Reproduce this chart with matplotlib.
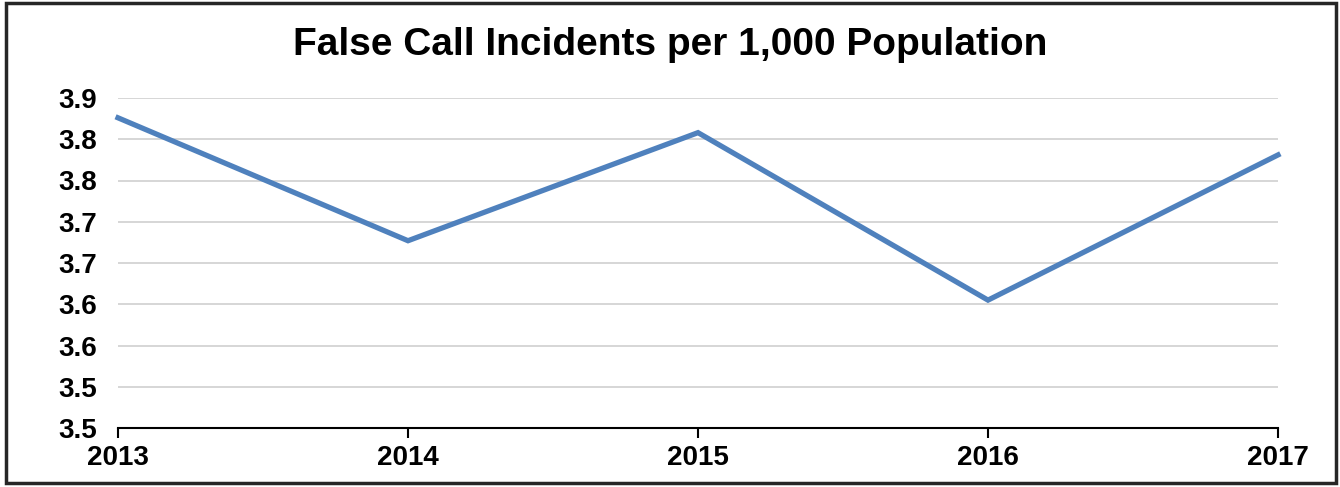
import matplotlib.pyplot as plt
from matplotlib.patches import Rectangle

plt.rcParams["font.family"] = ["Liberation Sans", "DejaVu Sans"]

years = ["2013", "2014", "2015", "2016", "2017"]
rates = [3.876, 3.727, 3.858, 3.655, 3.831]
y_ticks = [3.50, 3.55, 3.60, 3.65, 3.70, 3.75, 3.80, 3.85, 3.90]
y_labels = ["3.5", "3.5", "3.6", "3.6", "3.7", "3.7", "3.8", "3.8", "3.9"]

fig = plt.figure(figsize=(13.4, 4.87), dpi=100)
ax = fig.add_axes([118/1340, 1 - 428/487, (1278 - 118)/1340, (428 - 98)/487])

x = range(len(years))
ax.plot(x, rates, color="#4f81bd", lw=3.8, solid_joinstyle="miter", clip_on=False, zorder=3)

ax.set_xlim(0, len(years) - 1)
ax.set_ylim(3.5, 3.9)
ax.set_xticks(list(x))
ax.set_xticklabels(years, fontsize=20, fontweight="bold")
ax.set_yticks(y_ticks)
ax.set_yticklabels(y_labels, fontsize=20, fontweight="bold")
ax.tick_params(axis="y", length=0, pad=15)
ax.tick_params(axis="x", length=7, width=1.5, direction="out", pad=5)
ax.grid(axis="y", color="#d0d0d0", lw=1.2)
ax.set_axisbelow(True)
for s in ["top", "right", "left"]:
    ax.spines[s].set_visible(False)
ax.spines["bottom"].set_linewidth(1.5)

fig.text(0.5, 1 - 45/487, "False Call Incidents per 1,000 Population",
         ha="center", va="center", fontsize=28, fontweight="bold")

fig.patches.append(Rectangle((6/1340, 4/487), 1330/1340, 480/487, transform=fig.transFigure,
                             fill=False, edgecolor="#262626", lw=2.5))

fig.savefig("out.png", dpi=100)
